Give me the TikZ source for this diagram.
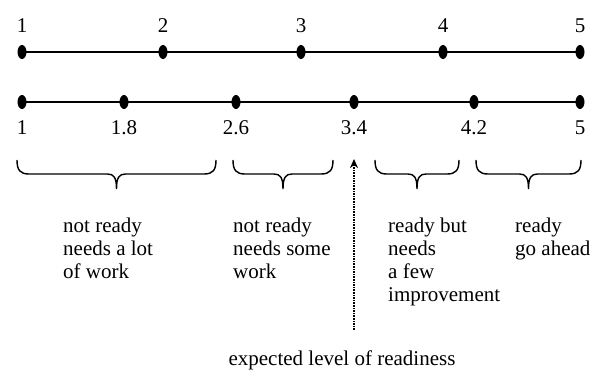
\documentclass[tikz,border=0pt]{standalone}
\usepackage{fontspec}
\setmainfont{Liberation Serif}
\usetikzlibrary{positioning,arrows.meta,shapes.geometric}

\newcommand{\levelbrace}[2]{%
	\draw[bracket] (#1,160) .. controls (#1,170) and (#1+3,174) .. (#1+12,174)
		-- ({(#1+#2)/2-9},174) .. controls ({(#1+#2)/2-3},174) and ({(#1+#2)/2},177) .. ({(#1+#2)/2},189)
		.. controls ({(#1+#2)/2},177) and ({(#1+#2)/2+3},174) .. ({(#1+#2)/2+9},174)
		-- (#2-12,174) .. controls (#2-3,174) and (#2,170) .. (#2,160);%
}

\begin{document}
\begin{tikzpicture}[
			x=1pt, y=-1pt
			,every node/.append style={font=\fontsize{21}{23}\selectfont}
			,dot/.style={ellipse, fill=black, inner sep=0pt, minimum width=9pt, minimum height=14pt}
			,val/.style={inner sep=1pt}
			,desc/.style={align=left, anchor=north west, inner sep=0pt}
			,scaleline/.style={line width=1.8pt}
			,bracket/.style={line width=1.4pt}
			,goal/.style={densely dotted, line width=1.6pt, -{Stealth[length=9pt, width=8pt]}}
		]
			\useasboundingbox (0,0) rectangle (590,370);
			\foreach \x/\v [count=\i] in {22/1,163/2,301/3,443/4,580/5} {
				\node [dot] (t\i) at (\x,52) {};
				\node [val, above=11pt of t\i] (tl\i) {\v};
			}
			\draw [scaleline] (t1.center) -- (t5.center);
			\foreach \x/\v [count=\i] in {22/1,124/1.8,236/2.6,354/3.4,474/4.2,580/5} {
				\node [dot] (b\i) at (\x,102) {};
				\node [val, below=10pt of b\i] (bl\i) {\v};
			}
			\draw [scaleline] (b1.center) -- (b6.center);
			\levelbrace{17}{216}
			\levelbrace{233}{333}
			\levelbrace{375}{459}
			\levelbrace{476}{581}
			\node [desc] (lot) at (63,218) {not ready\\needs a lot\\of work};
			\node [desc] (some) at (233,218) {not ready\\needs some\\work};
			\node [desc] (few) at (388,218) {ready but\\needs\\a few\\improvement};
			\node [desc] (ahead) at (515,218) {ready\\go ahead};
			\node [anchor=base] (expect) at (342,365) {expected level of readiness};
			\coordinate (goalfoot) at (354,330);
			\coordinate (goaltip) at (354,159);
			\draw [goal] (goalfoot) -- (goaltip);
		\end{tikzpicture}
\end{document}
